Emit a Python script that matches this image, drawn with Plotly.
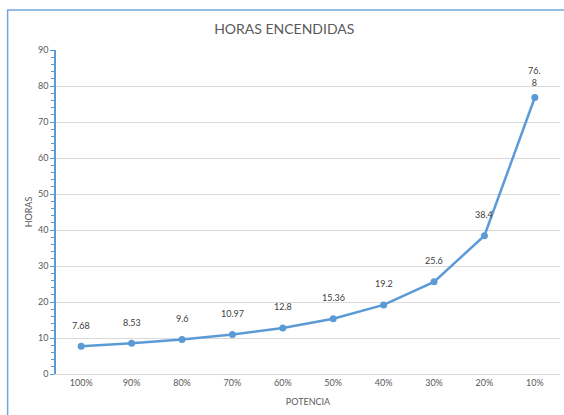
import plotly.graph_objects as go

categories = ["100%", "90%", "80%", "70%", "60%", "50%", "40%", "30%", "20%", "10%"]
horas = [7.68, 8.53, 9.6, 10.97, 12.8, 15.36, 19.2, 25.6, 38.4, 76.8]
label_text = ["7.68", "8.53", "9.6", "10.97", "12.8", "15.36", "19.2", "25.6", "38.4", "76.<br>8"]

blue = "#5B9BD5"
grid = "#D9D9D9"
txt = "#595959"
font_family = "Lato, 'Liberation Sans', Arial, sans-serif"

fig = go.Figure()
fig.add_trace(go.Scatter(
    x=categories, y=horas, mode="lines+markers",
    line=dict(color=blue, width=2.5),
    marker=dict(color=blue, size=7),
    hoverinfo="skip", showlegend=False,
))

for c, v, t in zip(categories, horas, label_text):
    fig.add_annotation(x=c, y=v, text=t, showarrow=False, yshift=21,
                       yanchor="middle", font=dict(size=9, color="#404040", family=font_family))

fig.add_shape(type="rect", xref="paper", yref="paper",
              x0=-0.096, x1=1.2, y0=-0.3, y1=1.1235,
              line=dict(color="#6FA8DC", width=1.5), layer="below")

fig.update_layout(
    width=564, height=415,
    margin=dict(l=56, r=4, t=50, b=41, autoexpand=False),
    paper_bgcolor="white", plot_bgcolor="white",
    font=dict(family=font_family, color=txt, size=9),
    title=dict(text="HORAS ENCENDIDAS", x=0.504, xanchor="center", y=0.93, yanchor="middle",
               font=dict(size=14, color=txt, family=font_family)),
)
fig.update_xaxes(
    type="category", range=[-0.5, 9.5], automargin=False,
    showline=True, linecolor=grid, linewidth=1,
    showgrid=False, ticks="", tickfont=dict(size=9, color=txt),
    title=dict(text="POTENCIA", font=dict(size=9, color=txt), standoff=11),
)
fig.update_yaxes(
    range=[0, 90], dtick=10, automargin=False,
    showline=True, linecolor=blue, linewidth=1.5,
    showgrid=True, gridcolor=grid, gridwidth=1,
    ticks="outside", ticklen=4, tickcolor=blue,
    minor=dict(dtick=2, ticks="outside", ticklen=3, tickcolor=blue, showgrid=False),
    tickfont=dict(size=9, color=txt),
    title=dict(text="HORAS", font=dict(size=9, color=txt), standoff=4),
    zeroline=False,
)

fig.write_html("out.html", config={"displayModeBar": False},
               post_script="document.body.style.margin='0px';")
